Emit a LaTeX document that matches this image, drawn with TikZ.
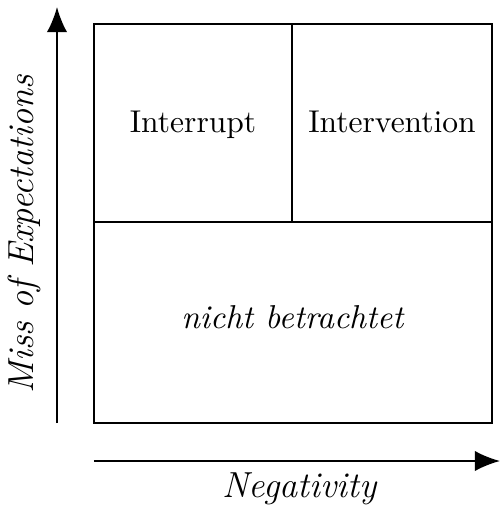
\documentclass[tikz,border=0pt]{standalone}
\usepackage{amsmath}
\usepackage{amssymb}
\usepackage{tikz}
\usetikzlibrary{arrows.meta}

\begin{document}
\begin{tikzpicture}[x=0.01116cm,y=-0.01116cm,line width=0.65pt,
        >={Latex[length=8pt,width=6.5pt]}]
        \useasboundingbox (0,0) rectangle (500,507);
        % quadrants
        \draw (94,24) rectangle (492,423);
        \draw (94,222)--(492,222);
        \draw (292,24)--(292,222);
        \node[anchor=base] (interrupt) at (193,132){Interrupt};
        \node[anchor=base] (intervention) at (392,132){Intervention};
        \node[anchor=base] (rest) at (293,328){\fontsize{10.5}{13}\selectfont\textit{nicht betrachtet}};
        % axes
        \coordinate (y0) at (57,423);
        \coordinate (y1) at (57,7);
        \coordinate (x0) at (94,461);
        \coordinate (x1) at (500,461);
        \draw[->] (y0)--(y1);
        \draw[->] (x0)--(x1);
        \node[rotate=90,anchor=base] (miss) at (33,234){\fontsize{11.5}{14}\selectfont\textit{Miss of Expectations}};
        \node[anchor=base] (neg) at (300,497){\fontsize{11.5}{14}\selectfont\textit{Negativity}};
    \end{tikzpicture}
\end{document}
